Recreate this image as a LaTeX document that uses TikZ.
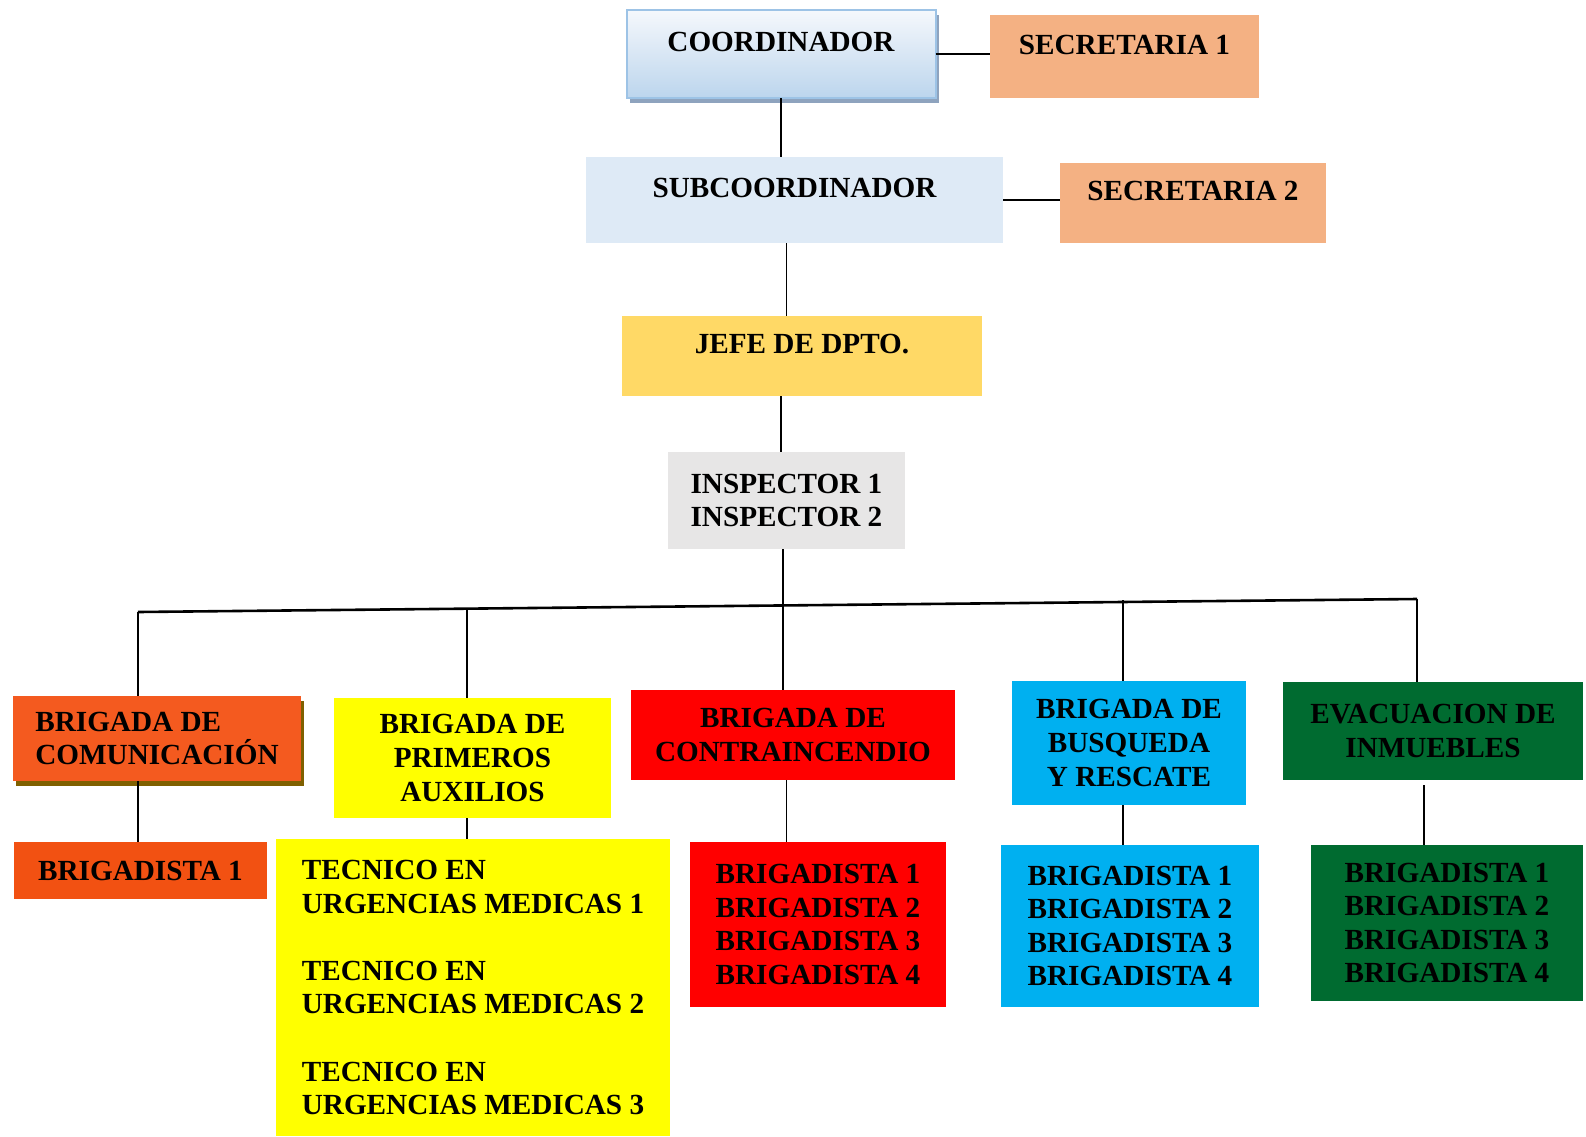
\documentclass[tikz,border=0pt]{standalone}
\usepackage{fontspec}
\setmainfont{Liberation Serif}
\usetikzlibrary{shadows}

\definecolor{coordtop}{HTML}{F5F8FC}
\definecolor{coordbot}{HTML}{BCD5ED}
\definecolor{coordline}{HTML}{9DC3E6}
\definecolor{coordshadow}{HTML}{8EA3BE}
\definecolor{secre}{HTML}{F4B183}
\definecolor{subco}{HTML}{DEEAF6}
\definecolor{jefe}{HTML}{FFD966}
\definecolor{inspec}{HTML}{E7E6E6}
\definecolor{comuni}{HTML}{F45A1F}
\definecolor{comshadow}{HTML}{7F6000}
\definecolor{comuni2}{HTML}{F25112}
\definecolor{amarillo}{HTML}{FFFF00}
\definecolor{rojo}{HTML}{FF0000}
\definecolor{celeste}{HTML}{00B0F0}
\definecolor{verde}{HTML}{006B30}

\newcommand{\raisetxt}[1]{\raisebox{6pt}[\height][\depth]{#1}}

\begin{document}
\begin{tikzpicture}[x=0.5pt, y=-0.5pt,
    box/.style={inner sep=0pt, outer sep=0pt, align=center,
        font=\fontsize{14.6}{16.8}\selectfont\bfseries},
    link/.style={line width=0.9pt},
    busline/.style={line width=1.3pt}]

    \useasboundingbox (0,0) rectangle (1586,1136);

    %top
    \node[box, minimum width=154.5pt, minimum height=44pt, top color=coordtop, bottom color=coordbot,
        draw=coordline, line width=1pt,
        drop shadow={shadow xshift=1.8pt, shadow yshift=-2.4pt, fill=coordshadow, opacity=1}]
        (coord) at (781,54) {\raisetxt{COORDINADOR}};
    \node[box, minimum width=134.5pt, minimum height=41.5pt, fill=secre] (sec1) at (1124.5,56.5) {\raisetxt{SECRETARIA 1}};
    \node[box, minimum width=208.5pt, minimum height=43pt, fill=subco] (sub) at (794.5,200) {\raisetxt{SUBCOORDINADOR}};
    \node[box, minimum width=133pt, minimum height=40pt, fill=secre] (sec2) at (1193,203) {\raisetxt{SECRETARIA 2}};
    \node[box, minimum width=180pt, minimum height=40pt, fill=jefe] (jefe) at (802,356) {\raisetxt{JEFE DE DPTO.}};
    \node[box, minimum width=118.5pt, minimum height=48.5pt, fill=inspec, align=left] (insp) at (786.5,500.5) {INSPECTOR 1\\INSPECTOR 2};

    %brigadas
    \node[box, minimum width=144pt, minimum height=42.5pt, fill=comuni, align=left,
        drop shadow={shadow xshift=1.6pt, shadow yshift=-2.3pt, fill=comshadow, opacity=1}]
        (com) at (157,738.5) {BRIGADA DE\\COMUNICACIÓN};
    \node[box, minimum width=138.5pt, minimum height=60pt, fill=amarillo] (aux) at (472.5,758) {BRIGADA DE\\PRIMEROS\\AUXILIOS};
    \node[box, minimum width=162pt, minimum height=45pt, fill=rojo] (con) at (793,735) {BRIGADA DE\\CONTRAINCENDIO};
    \node[box, minimum width=117pt, minimum height=62pt, fill=celeste] (busq) at (1129,743) {BRIGADA DE\\BUSQUEDA\\Y RESCATE};
    \node[box, minimum width=150pt, minimum height=49pt, fill=verde] (eva) at (1433,731) {EVACUACION DE\\INMUEBLES};

    %brigadistas
    \node[box, minimum width=126.5pt, minimum height=28.5pt, fill=comuni2] (b1) at (140.5,870.5) {BRIGADISTA 1};
    \node[box, minimum width=197pt, minimum height=148.5pt, fill=amarillo, align=left] (tec) at (473,987.5)
        {TECNICO EN\\URGENCIAS MEDICAS 1\\[16.8pt]TECNICO EN\\URGENCIAS MEDICAS 2\\[16.8pt]TECNICO EN\\URGENCIAS MEDICAS 3};
    \node[box, minimum width=128pt, minimum height=82.5pt, fill=rojo] (rojos) at (818,924.5)
        {BRIGADISTA 1\\BRIGADISTA 2\\BRIGADISTA 3\\BRIGADISTA 4};
    \node[box, minimum width=129pt, minimum height=81pt, fill=celeste] (azules) at (1130,926)
        {BRIGADISTA 1\\BRIGADISTA 2\\BRIGADISTA 3\\BRIGADISTA 4};
    \node[box, minimum width=136pt, minimum height=78pt, fill=verde] (verdes) at (1447,923)
        {BRIGADISTA 1\\BRIGADISTA 2\\BRIGADISTA 3\\BRIGADISTA 4};

    %links top
    \draw[link] (coord.east) -- (coord.east -| sec1.west);
    \draw[link] (sub.east) -- (sub.east -| sec2.west);
    \draw[link] (coord.south) -- (coord.south |- sub.north);
    \draw[link] (sub.south -| insp.north) -- (jefe.north -| insp.north);
    \draw[link] (jefe.south -| coord.south) -- (insp.north -| coord.south);

    %bus
    \coordinate (busL) at (138,612);
    \coordinate (busR) at (1417,599);
    \coordinate (d2) at (467,608.7);
    \coordinate (d3) at (783,605.4);
    \coordinate (d4) at (1123,600);
    \coordinate (d5) at (1424,785);
    \draw[busline] (busL) -- (busR);
    \draw[link] (busL) -- (busL |- com.north);
    \draw[link] (d2) -- (d2 |- aux.north);
    \draw[link] (insp.south -| d3) -- (d3 |- con.north);
    \draw[link] (d4) -- (d4 |- busq.north);
    \draw[link] (busR) -- (busR |- eva.north);

    %links bottom
    \draw[link] (com.south -| busL) -- (b1.north -| busL);
    \draw[link] (aux.south -| d2) -- (tec.north -| d2);
    \draw[link] (con.south -| insp.north) -- (rojos.north -| insp.north);
    \draw[link] (busq.south -| d4) -- (azules.north -| d4);
    \draw[link] (d5) -- (d5 |- verdes.north);

\end{tikzpicture}
\end{document}
